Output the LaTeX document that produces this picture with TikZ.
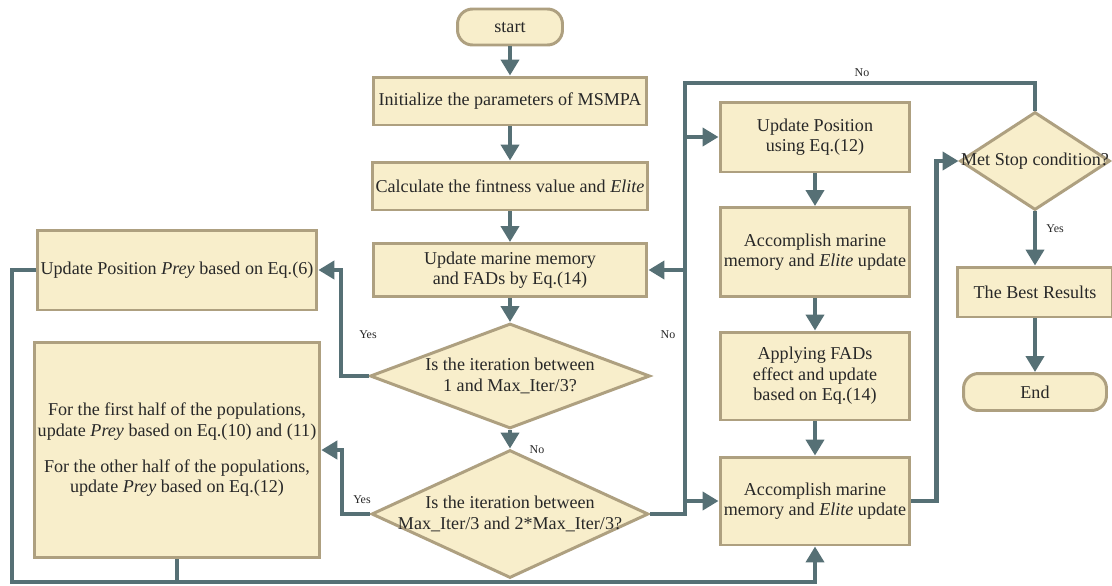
\documentclass[tikz,border=0pt]{standalone}
\usepackage{fontspec}
\setmainfont{Liberation Serif}
\usetikzlibrary{shapes.geometric,arrows.meta}
\definecolor{boxfill}{RGB}{248,238,203}
\definecolor{boxedge}{RGB}{174,160,128}
\definecolor{flowgrey}{RGB}{86,112,117}
\definecolor{textgrey}{RGB}{40,40,40}

\begin{document}
\begin{tikzpicture}[x=0.02cm, y=-0.02cm,
  font=\fontsize{10.3}{11.6}\selectfont,
  procbox/.style={draw=boxedge, fill=boxfill, line width=1.7pt,
    text=textgrey, align=center, inner sep=2pt},
  termbox/.style={procbox, rounded corners=0.3cm},
  decision/.style={diamond, draw=boxedge, fill=boxfill,
    line width=1.7pt, inner sep=0pt},
  flow/.style={draw=flowgrey, line width=2.3pt,
    -{Triangle[length=0.32cm,width=0.36cm]}},
  link/.style={draw=flowgrey, line width=2.3pt},
  tag/.style={font=\fontsize{6.8}{8}\selectfont, text=textgrey}]

  \fill[white] (0,0) rectangle (1112,585);
  \useasboundingbox (0,0) rectangle (1112,585);

  % middle column
  \node[termbox, minimum width=2.1cm, minimum height=0.72cm]
    (start) at (510,27) {start};
  \node[procbox, minimum width=5.48cm, minimum height=0.96cm]
    (init) at (510,101) {Initialize the parameters of MSMPA};
  \node[procbox, minimum width=5.48cm, minimum height=0.96cm]
    (calc) at (510,186) {Calculate the fintness value and \textit{Elite}};
  \node[procbox, minimum width=5.48cm, minimum height=1.06cm]
    (um) at (510,270) {Update marine memory\\and FADs by Eq.(14)};
  \node[decision, minimum width=5.6cm, minimum height=2.1cm,
    label={[align=center, text=textgrey]center:{Is the iteration between\\1 and Max\_Iter/3?}}]
    (d1) at (510,376) {};
  \node[decision, minimum width=5.54cm, minimum height=2.56cm,
    label={[align=center, text=textgrey]center:{Is the iteration between\\Max\_Iter/3 and 2*Max\_Iter/3?}}]
    (d2) at (510,514) {};

  % left column
  \node[procbox, minimum width=5.58cm, minimum height=1.6cm]
    (p1) at (177,270) {Update Position \textit{Prey} based on Eq.(6)};
  \node[procbox, minimum width=5.54cm, minimum height=4.32cm]
    (p2) at (177,450) {For the first half of the populations,\\
      update \textit{Prey} based on Eq.(10) and (11)\\[9pt]
      For the other half of the populations,\\
      update \textit{Prey} based on Eq.(12)};

  % right column
  \node[procbox, minimum width=3.8cm, minimum height=1.4cm]
    (upos) at (815,137) {Update Position\\using Eq.(12)};
  \node[procbox, minimum width=3.8cm, minimum height=1.78cm]
    (acc1) at (815,252) {Accomplish marine\\memory and \textit{Elite} update};
  \node[procbox, minimum width=3.8cm, minimum height=1.76cm]
    (fads) at (815,376) {Applying FADs\\effect and update\\based on Eq.(14)};
  \node[procbox, minimum width=3.8cm, minimum height=1.76cm]
    (acc2) at (815,501) {Accomplish marine\\memory and \textit{Elite} update};
  \node[decision, minimum width=3.0cm, minimum height=1.96cm,
    label={[text=textgrey]center:{Met Stop condition?}}]
    (d3) at (1035,161) {};
  \node[procbox, minimum width=3.1cm, minimum height=1.0cm]
    (best) at (1035,292) {The Best Results};
  \node[termbox, minimum width=2.86cm, minimum height=0.74cm]
    (finish) at (1035,392) {End};

  \coordinate (loopbl) at (12,582);
  \coordinate (nobus) at (685,83);

  % connectors
  \foreach \a/\b in {start/init, init/calc, calc/um, um/d1, d1/d2,
                     upos/acc1, acc1/fads, fads/acc2, d3/best, best/finish}
    \draw[flow] (\a) -- (\b);

  \draw[flow] (d1.west) -- ++(-28,0) |- (p1.east);
  \draw[flow] (d2.west) -- ++(-28,0) |- (p2.east);
  \draw[flow] (p1.west) -| (loopbl) -| (acc2.south);
  \draw[link] (p2.south) -- (p2.south |- loopbl);

  \draw[link] (d3.north) |- (nobus) -- (nobus |- d2.east) -- (d2.east);
  \draw[flow] (nobus |- upos.west) -- (upos.west);
  \draw[flow] (nobus |- um.east) -- (um.east);
  \draw[flow] (nobus |- acc2.west) -- (acc2.west);
  \draw[flow] (acc2.east) -- ++(25,0) |- (d3.west);

  % branch labels
  \node[tag] (yes1) at (368,335) {Yes};
  \node[tag] (yes2) at (362,500) {Yes};
  \node[tag] (no1) at (537,450) {No};
  \node[tag] (no2) at (668,335) {No};
  \node[tag] (no3) at (862,73) {No};
  \node[tag] (yes3) at (1055,229) {Yes};
\end{tikzpicture}
\end{document}
